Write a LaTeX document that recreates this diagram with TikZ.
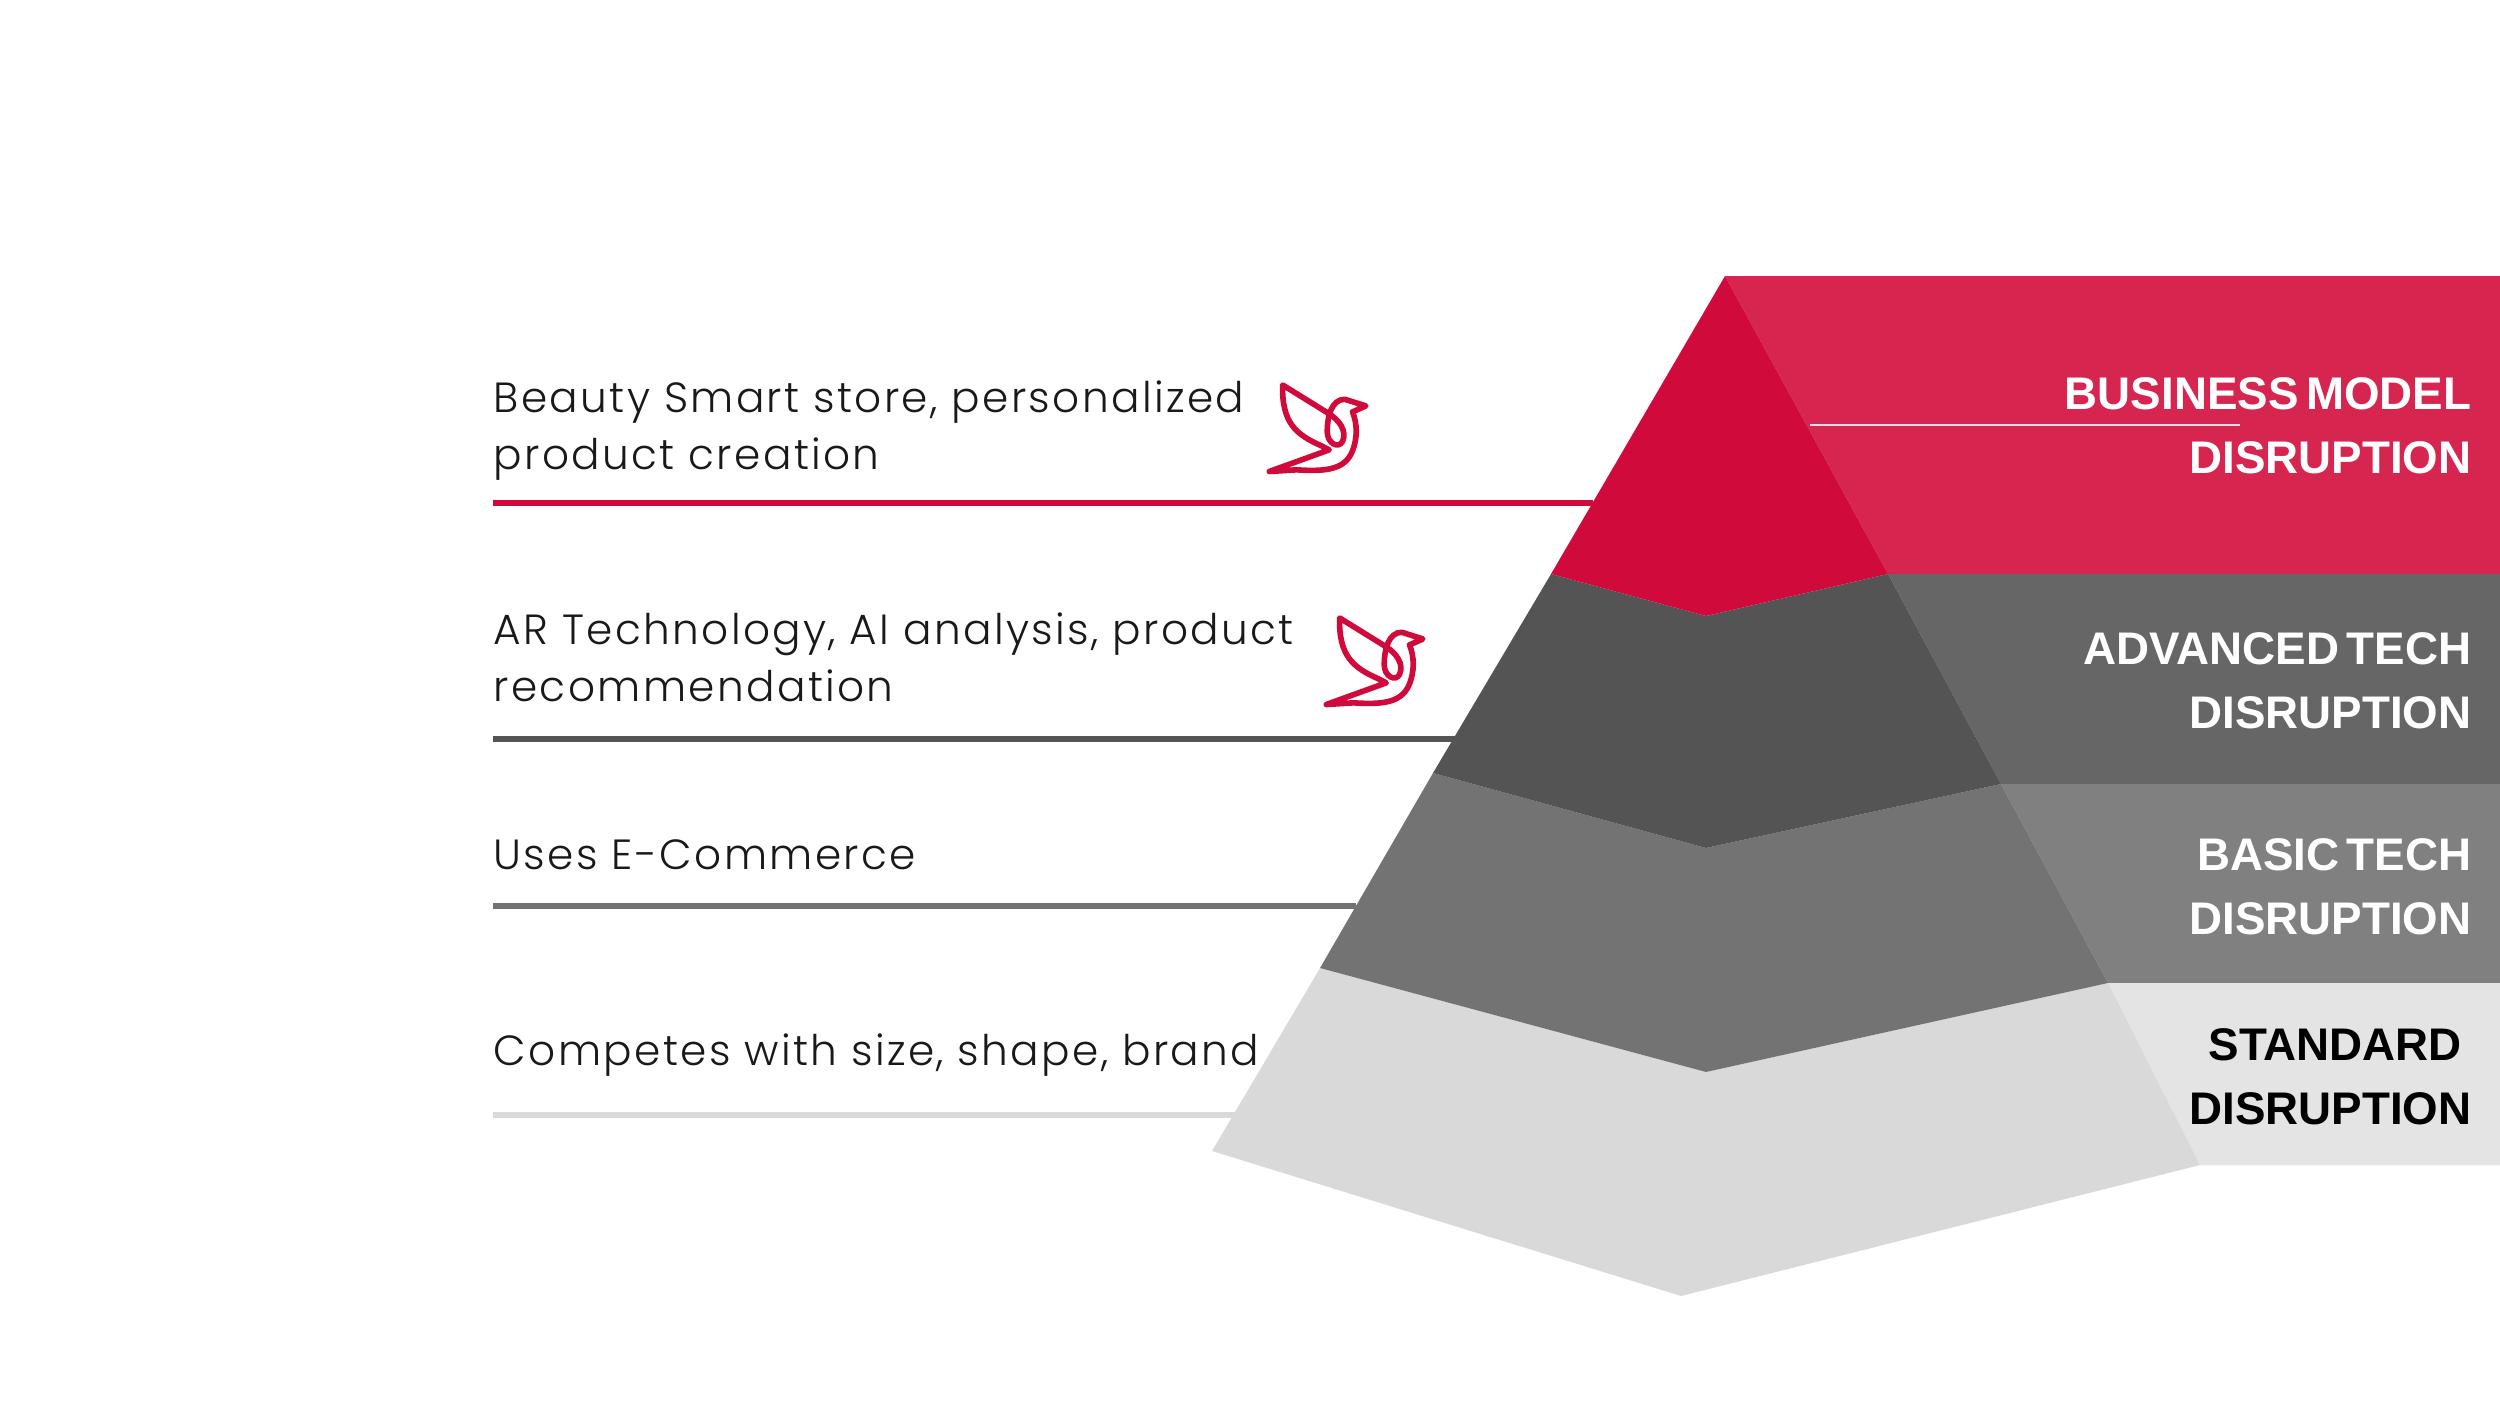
\documentclass[tikz,border=0pt]{standalone}
\usepackage{fontspec}
\setmainfont{Poppins Light}[LetterSpace=5.6]
\newfontfamily\headfont{Liberation Sans}[WordSpace=0.6]
\definecolor{topred}{HTML}{D10A3C}
\definecolor{topband}{HTML}{D6254F}
\definecolor{advdark}{HTML}{545454}
\definecolor{advband}{HTML}{666666}
\definecolor{basicmid}{HTML}{737373}
\definecolor{basicband}{HTML}{808080}
\definecolor{stdlight}{HTML}{D9D9D9}
\definecolor{stdband}{HTML}{E4E4E4}
\tikzset{
    lefttext/.style={anchor=base west, inner sep=0pt, align=left, text=black!90, font=\fontsize{12}{16.2}\selectfont},
    headtext/.style={anchor=base east, inner sep=0pt, align=right, text=white, font=\fontsize{13}{18.2}\selectfont\headfont\bfseries},
    rule/.style={line width=1.6pt},
    bird/.pic={
        \draw[topred, line width=1.6pt, line join=round, x=0.00333cm, y=-0.00333cm]
            (128,75) -- (262,158) .. controls (300,180) and (322,215) .. (308,245)
            .. controls (295,268) and (262,250) .. (262,215)
            .. controls (262,170) and (275,118) .. (315,118)
            -- (378,138) -- (338,156)
            .. controls (352,190) and (355,235) .. (335,280)
            .. controls (310,332) and (250,335) .. (170,330) -- (88,335)
            -- (268,270) -- (245,258)
            .. controls (170,225) and (125,190) .. cycle;
    }
}

\begin{document}
\begin{tikzpicture}[x=0.01cm, y=-0.01cm]

    \useasboundingbox (0, 0) rectangle (2500, 1406);

    % bands behind the pyramid
    \fill[topband] (1725, 276) -- (2500, 276) -- (2500, 574) -- (1888, 574) -- cycle;
    \fill[advband] (1888, 574) -- (2500, 574) -- (2500, 784) -- (2001, 784) -- cycle;
    \fill[basicband] (2001, 784) -- (2500, 784) -- (2500, 983) -- (2108, 983) -- cycle;
    \fill[stdband] (2108, 983) -- (2500, 983) -- (2500, 1165) -- (2200, 1165) -- cycle;

    % pyramid
    \fill[stdlight] (1320, 968) -- (1706, 1072) -- (2108, 983) -- (2200, 1165) -- (1681, 1296) -- (1212, 1151) -- cycle;
    \fill[basicmid] (1433, 773) -- (1706, 848) -- (2001, 784) -- (2108, 983) -- (1706, 1072) -- (1320, 968) -- cycle;
    \fill[advdark] (1551, 574) -- (1706, 616) -- (1888, 574) -- (2001, 784) -- (1706, 848) -- (1433, 773) -- cycle;
    \fill[topred] (1725, 276) -- (1888, 574) -- (1706, 616) -- (1551, 574) -- cycle;

    % thin line over the top band
    \coordinate (thinA) at (1810, 425);
    \coordinate (thinB) at (2240, 425);
    \draw[white!85!topband, line width=0.5pt] (thinA) -- (thinB);

    % rules
    \coordinate (ruleA) at (493, 503);
    \coordinate (endA) at (1593, 503);
    \coordinate (ruleB) at (493, 739);
    \coordinate (endB) at (1456, 739);
    \coordinate (ruleC) at (493, 906);
    \coordinate (endC) at (1356, 906);
    \coordinate (ruleD) at (493, 1115);
    \coordinate (endD) at (1236, 1115);
    \draw[rule, topred] (ruleA) -- (endA);
    \draw[rule, advdark] (ruleB) -- (endB);
    \draw[rule, basicmid] (ruleC) -- (endC);
    \draw[rule, stdlight] (ruleD) -- (endD);

    % left texts
    \node[lefttext] (beauty) at (493, 469) {Beauty Smart store, personalized\\product creation};
    \node[lefttext] (artech) at (493, 701) {AR Technology, AI analysis, product\\recommendation};
    \node[lefttext] (ecomm) at (493, 869) {Uses E-Commerce};
    \node[lefttext] (size) at (493, 1065) {Competes with size, shape, brand};

    % birds
    \pic at (1240, 360) {bird};
    \pic at (1297, 593) {bird};

    % right labels
    \node[headtext] (business) at (2472, 473) {BUSINESS MODEL\\DISRUPTION};
    \node[headtext] (advanced) at (2472, 728) {ADVANCED TECH\\DISRUPTION};
    \node[headtext] (basic) at (2472, 934) {BASIC TECH\\DISRUPTION};
    \node[headtext, text=black, align=center] (standard) at (2472, 1124) {\hspace*{0.1cm}STANDARD\\DISRUPTION};

\end{tikzpicture}
\end{document}
